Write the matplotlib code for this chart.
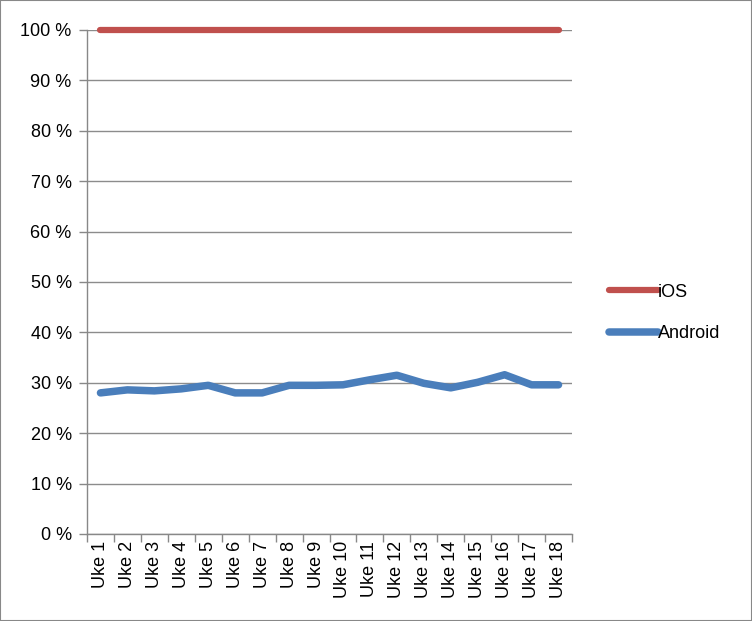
import matplotlib
matplotlib.use("Agg")
import matplotlib.pyplot as plt
from matplotlib.ticker import FixedLocator, NullFormatter, FixedFormatter
from matplotlib.patches import Rectangle

weeks = [f"Uke {i}" for i in range(1, 19)]
ios = [100] * 18
android = [28.0, 28.6, 28.4, 28.8, 29.5, 28.0, 28.0, 29.5, 29.5, 29.6,
           30.6, 31.5, 29.9, 29.0, 30.1, 31.6, 29.6, 29.6]
yticks = list(range(0, 101, 10))
ytick_labels = [f"{v} %" for v in yticks]

plt.rcParams['font.family'] = ['Liberation Sans', 'DejaVu Sans']
fig = plt.figure(figsize=(7.52, 6.21), dpi=100)
ax = fig.add_axes([87/752, 1-534/621, (572-87)/752, (534-30)/621])

x = list(range(len(weeks)))
ax.plot(x, ios, color='#c0504d', lw=4.5, solid_capstyle='round', label='iOS', clip_on=False, zorder=3)
ax.plot(x, android, color='#4a7ebb', lw=5.4, solid_capstyle='round', solid_joinstyle='round', label='Android', zorder=3)

ax.set_xlim(-0.5, len(weeks) - 0.5)
ax.set_ylim(0, 100)
ax.set_yticks(yticks)
ax.set_yticklabels(ytick_labels, fontsize=13)
ax.xaxis.set_major_locator(FixedLocator([i - 0.5 for i in range(len(weeks) + 1)]))
ax.xaxis.set_major_formatter(NullFormatter())
ax.xaxis.set_minor_locator(FixedLocator(x))
ax.xaxis.set_minor_formatter(FixedFormatter(weeks))
ax.tick_params(axis='x', which='minor', length=0, labelsize=13, labelrotation=90, pad=5)
ax.tick_params(axis='x', which='major', length=6, color='#888888', width=1)
ax.tick_params(axis='y', length=6, color='#888888', width=1, pad=5)
ax.grid(axis='y', color='#8c8c8c', lw=1)
ax.set_axisbelow(True)
for s in ['top', 'right']:
    ax.spines[s].set_visible(False)
for s in ['left', 'bottom']:
    ax.spines[s].set_color('#888888')
    ax.spines[s].set_linewidth(1)

fig.legend(loc='center left', bbox_to_anchor=(593/752, 1-313/621), frameon=False,
           fontsize=13, handlelength=2.7, handletextpad=0.0, labelspacing=1.35)

fig.patches.append(Rectangle((0, 0), 1, 1, transform=fig.transFigure, fill=False,
                             edgecolor='#888888', lw=1.5))
fig.savefig('out.png', dpi=100)
